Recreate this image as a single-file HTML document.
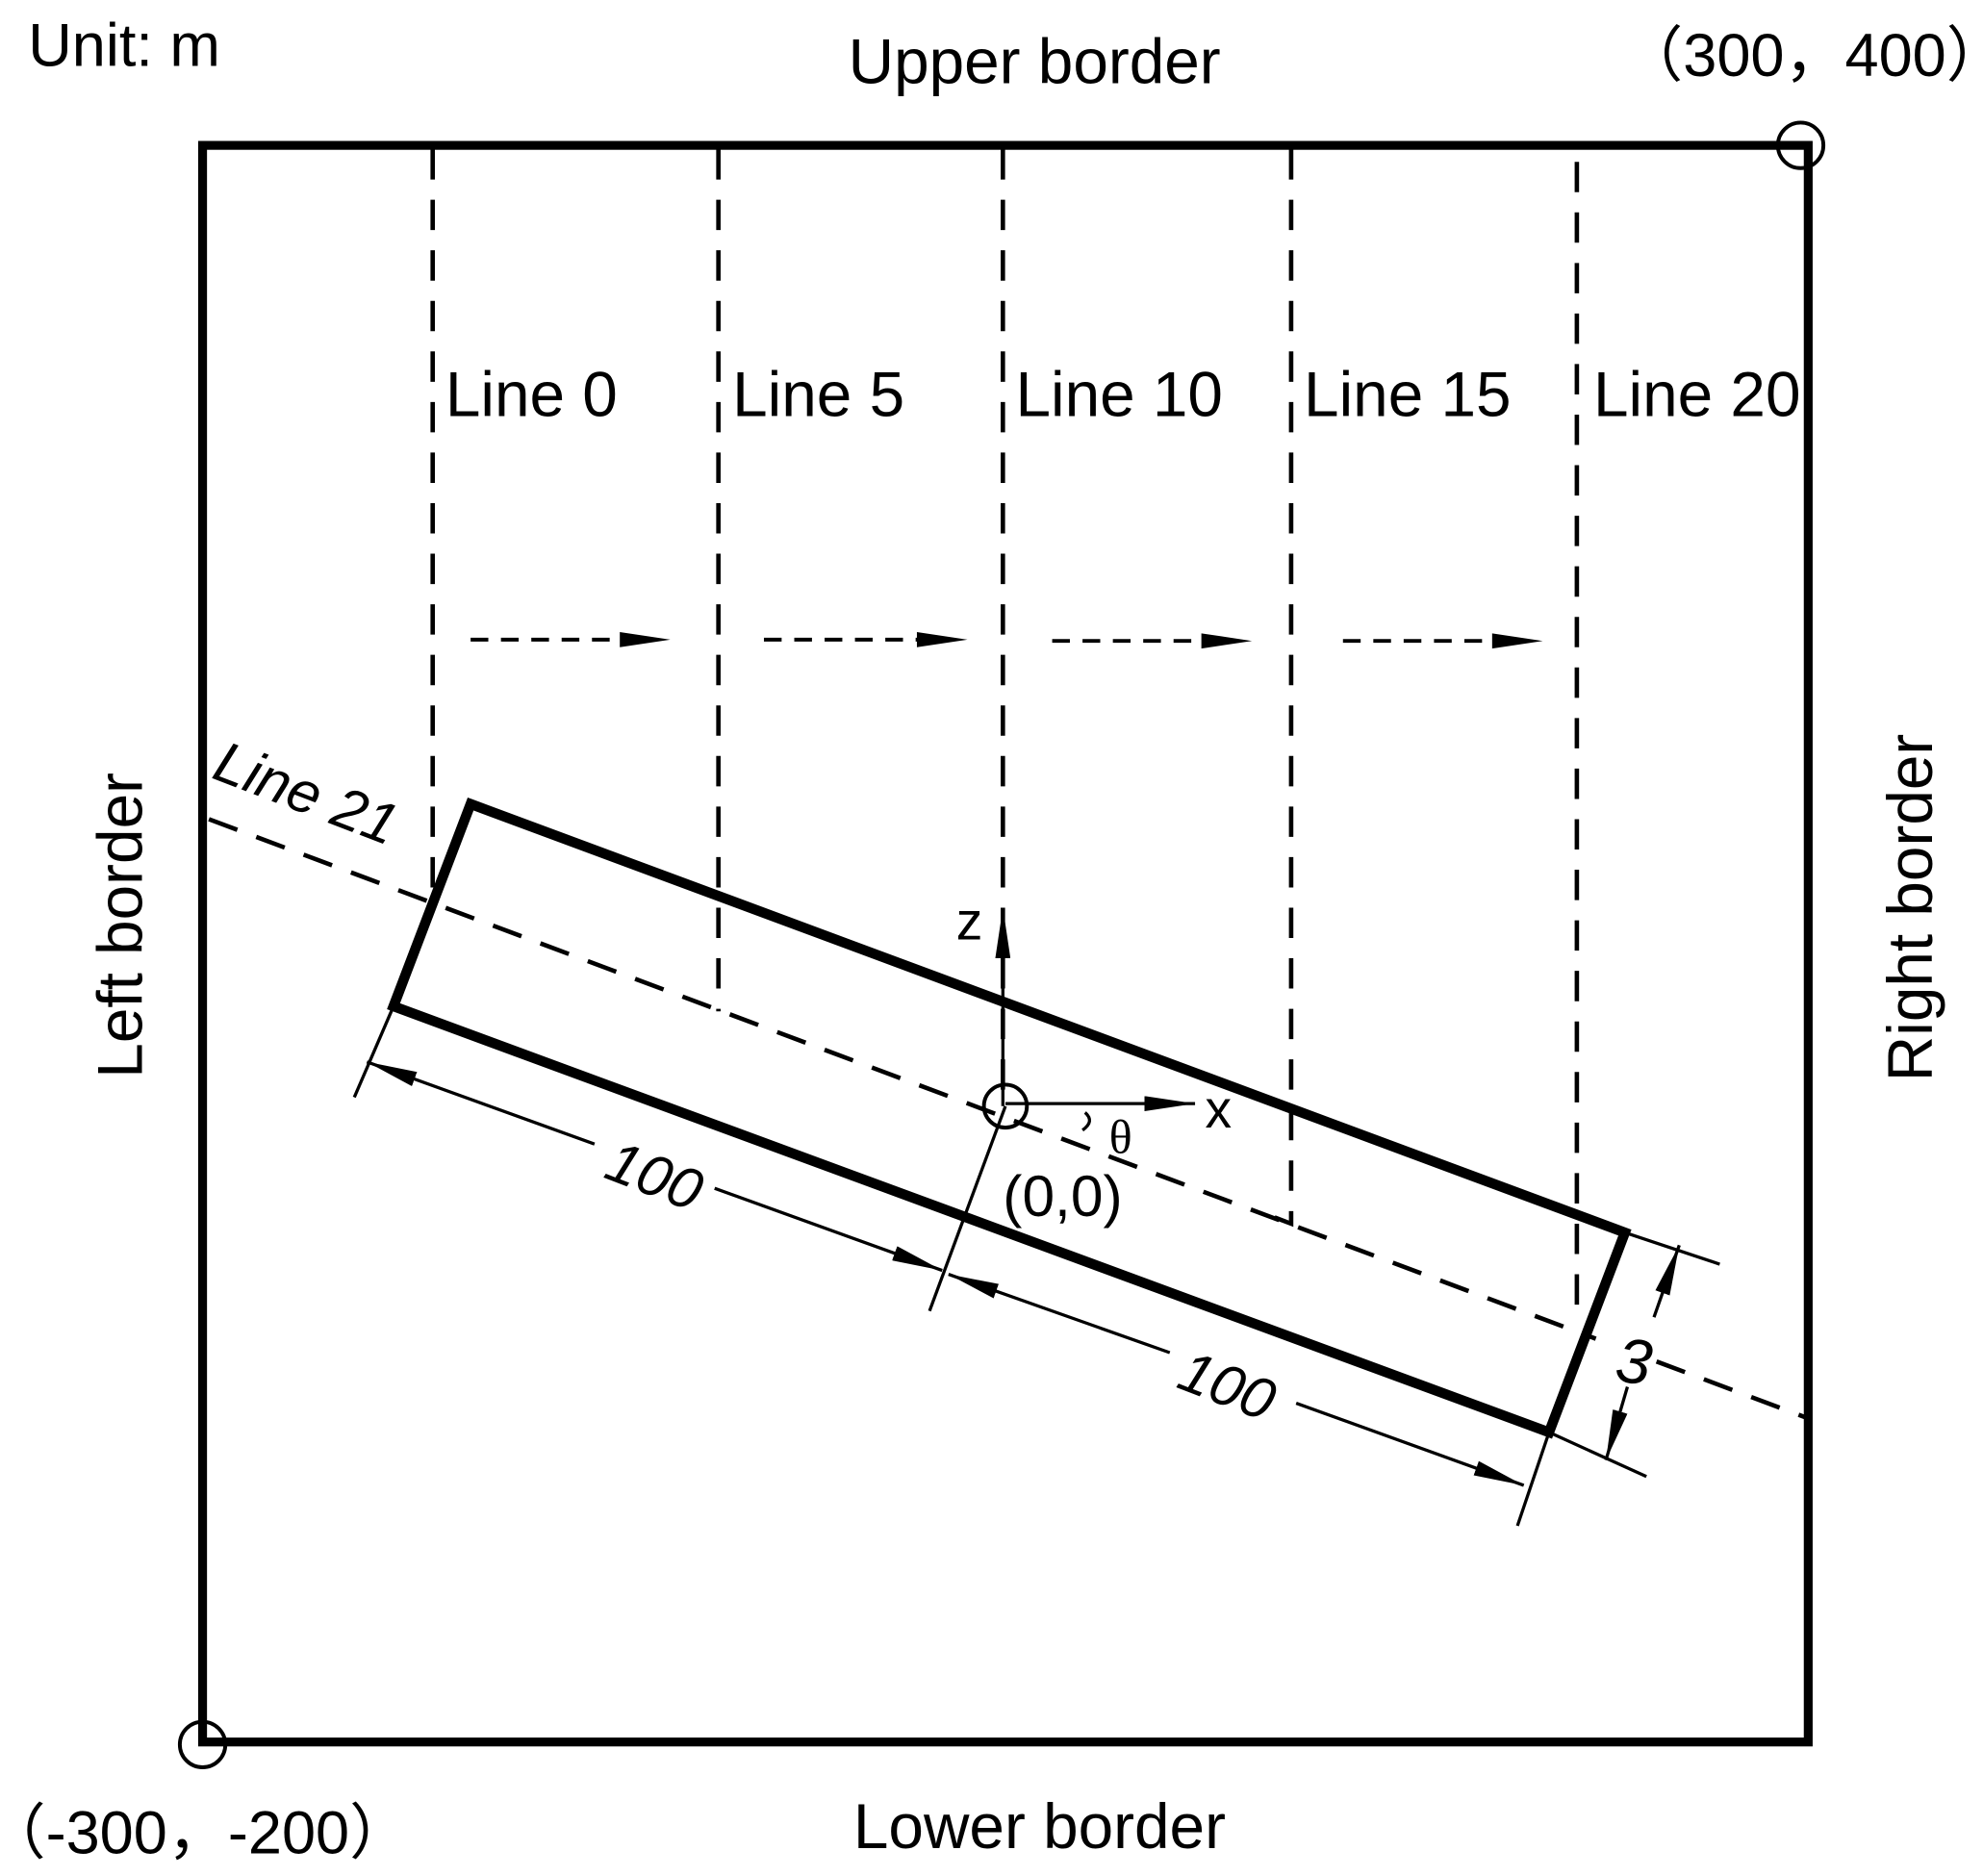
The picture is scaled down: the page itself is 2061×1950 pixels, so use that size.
<!DOCTYPE html>
<html><head><style>html,body{margin:0;padding:0;background:#fff}svg{display:block}</style></head>
<body>
<svg width="2061" height="1950" viewBox="0 0 1568 1484" xmlns="http://www.w3.org/2000/svg" font-family="Liberation Sans, Noto Sans CJK SC, sans-serif">
<defs>
<marker id="al" markerWidth="40" markerHeight="12" refX="40" refY="6" orient="auto" markerUnits="userSpaceOnUse" viewBox="0 0 40 12"><path d="M0,0 L40,6 L0,12z" fill="#000"/></marker>
</defs>
<rect width="1568" height="1484" fill="#fff"/>
<rect x="160" y="115" width="1270" height="1263" fill="none" stroke="#000" stroke-width="7"/>
<circle cx="1424" cy="115" r="18" fill="none" stroke="#000" stroke-width="3"/>
<circle cx="160" cy="1380" r="18" fill="none" stroke="#000" stroke-width="3"/>
<g stroke="#000" stroke-width="3.5" stroke-dasharray="24,16" fill="none">
<line x1="342" y1="118" x2="342" y2="710"/>
<line x1="568" y1="118" x2="568" y2="800"/>
<line x1="793" y1="118" x2="793" y2="870"/>
<polyline points="1021,118 1021,968 1000,960"/>
<line x1="1247" y1="128" x2="1247" y2="1045"/>
<line x1="165" y1="648" x2="1262" y2="1059"/>
<line x1="1310" y1="1077" x2="1430" y2="1122"/>
</g>
<g stroke="#000" stroke-width="3" stroke-dasharray="14,10" fill="none">
<line x1="372" y1="506" x2="490" y2="506"/>
<line x1="604" y1="506" x2="725" y2="506"/>
<line x1="832" y1="507" x2="950" y2="507"/>
<line x1="1062" y1="507" x2="1180" y2="507"/>
</g>
<g fill="#000">
<path d="M490,500 L530,506 L490,512z"/>
<path d="M725,500 L765,506 L725,512z"/>
<path d="M950,501 L990,507 L950,513z"/>
<path d="M1180,501 L1220,507 L1180,513z"/>
</g>
<polygon points="372,636 1285,975 1225,1133 311,796" fill="none" stroke="#000" stroke-width="8"/>
<g stroke="#000" stroke-width="2.5" fill="none">
<line x1="280" y1="868" x2="311" y2="796"/>
<line x1="795" y1="875" x2="735" y2="1037"/>
<line x1="1200" y1="1207" x2="1225" y2="1133"/>
<line x1="1285" y1="975" x2="1360" y2="1000"/>
<line x1="1225" y1="1133" x2="1302" y2="1168"/>
<line x1="470" y1="905" x2="290" y2="840" marker-end="url(#al)"/>
<line x1="565" y1="940" x2="745" y2="1005" marker-end="url(#al)"/>
<line x1="925" y1="1070" x2="750" y2="1008" marker-end="url(#al)"/>
<line x1="1025" y1="1110" x2="1205" y2="1175" marker-end="url(#al)"/>
<line x1="1308" y1="1042" x2="1328" y2="985" marker-end="url(#al)"/>
<line x1="1287" y1="1097" x2="1270" y2="1155" marker-end="url(#al)"/>
<line x1="793" y1="875" x2="793" y2="718" marker-end="url(#al)"/>
<line x1="795" y1="873" x2="945" y2="873" marker-end="url(#al)"/>
<path d="M858,880 Q866,887 856,894" />
</g>
<circle cx="795" cy="875" r="17" fill="none" stroke="#000" stroke-width="3"/>
<g font-size="50" fill="#000">
<text x="22" y="52" font-size="48">Unit: m</text>
<text x="818" y="66" text-anchor="middle">Upper border</text>
<text x="1283" y="60" font-size="48">（300，400）</text>
<text x="822" y="1462" text-anchor="middle">Lower border</text>
<text x="-12" y="1466" font-size="48">（-300，-200）</text>
<text transform="translate(112,732) rotate(-90)" text-anchor="middle">Left border</text>
<text transform="translate(1528,718) rotate(-90)" text-anchor="middle">Right border</text>
<text x="352" y="329">Line 0</text>
<text x="579" y="329">Line 5</text>
<text x="803" y="329">Line 10</text>
<text x="1031" y="329">Line 15</text>
<text x="1260" y="329">Line 20</text>
<text transform="translate(166,615) rotate(21)" font-size="46" font-style="italic">Line 21</text>
<text transform="translate(476,931) rotate(21)" font-size="46" font-style="italic">100</text>
<text transform="translate(929,1097) rotate(21)" font-size="46" font-style="italic">100</text>
<text transform="translate(1276,1092) rotate(8)" font-size="50" font-style="italic">3</text>
<text x="756" y="743" font-size="42">z</text>
<text x="953" y="892" font-size="42">x</text>
<text x="877" y="912" font-size="38" font-family="Liberation Serif, serif">θ</text>
<text x="793" y="962" font-size="46">(0,0)</text>
</g>
</svg>
</body></html>
